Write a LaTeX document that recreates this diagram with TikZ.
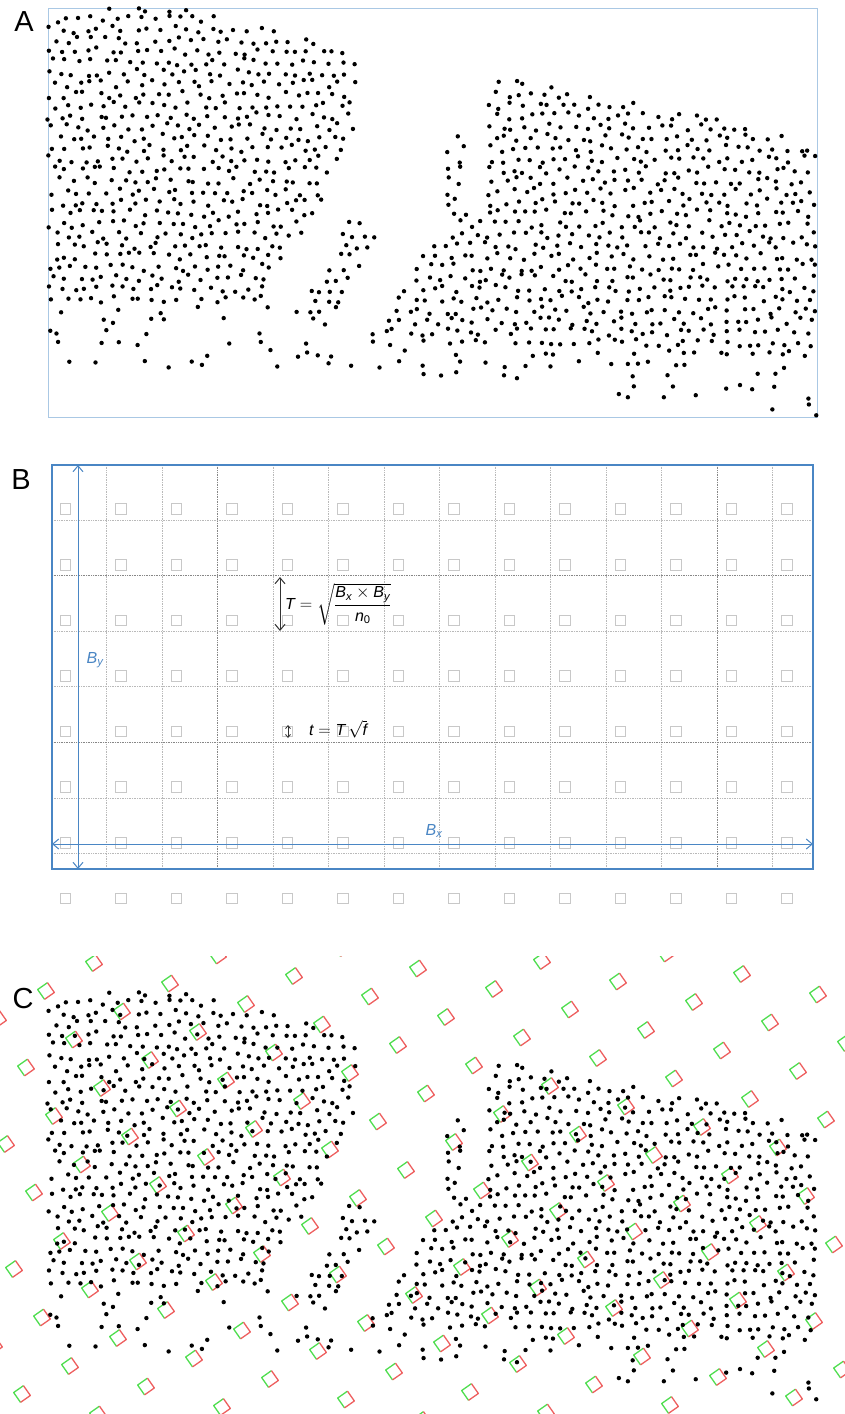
\documentclass[tikz,border=0pt]{standalone}
\usepackage{amsmath}
\usepackage{fontspec}
\setmainfont{Liberation Sans}
\usetikzlibrary{arrows.meta}
\definecolor{frameAc}{RGB}{170,200,228}
\definecolor{bblue}{RGB}{74,134,196}
\definecolor{gridc}{RGB}{185,185,185}
\definecolor{gridk}{RGB}{135,135,135}
\definecolor{sqc}{RGB}{200,200,200}
\definecolor{cgreen}{RGB}{80,222,80}
\definecolor{cred}{RGB}{238,95,95}
\newcommand\mi[1]{\text{\itshape #1}}
\tikzset{
  dotsty/.style={fill=black},
  frameA/.style={draw=frameAc, line width=1pt},
  frameB/.style={draw=bblue, line width=1.3pt},
  gridl/.style={draw=gridc, line width=0.7pt, densely dotted},
  gridd/.style={draw=gridk, line width=0.7pt, densely dotted},
  graysq/.style={draw=sqc, line width=0.7pt},
  barrow/.style={draw=bblue, line width=1pt, {Straight Barb[length=6pt,width=10pt]}-{Straight Barb[length=6pt,width=10pt]}},
  karrow/.style={draw=black!80, line width=1pt, {Straight Barb[length=6pt,width=10pt]}-{Straight Barb[length=6pt,width=10pt]}},
  ksmall/.style={draw=black!80, line width=0.8pt, {Straight Barb[length=3pt,width=5pt]}-{Straight Barb[length=3pt,width=5pt]}},
  gside/.style={draw=cgreen, line width=1.3pt, line join=round},
  rside/.style={draw=cred, line width=1.3pt, line join=round},
  plabel/.style={font=\fontsize{29}{29}\selectfont, inner sep=0pt},
  blabel/.style={font=\fontsize{16}{19}\selectfont, text=bblue, inner sep=0pt},
  flabel/.style={font=\fontsize{16}{19}\selectfont, inner sep=0pt, anchor=west}
}
\begin{document}
\begin{tikzpicture}[x=1pt,y=-1pt]
\useasboundingbox (0,0) rectangle (845,1414);
\fill[white] (0,0) rectangle (845,1414);

% ---------- panel labels
\node[plabel] (labA) at (24,22) {A};
\node[plabel] (labB) at (21,480) {B};
\node[plabel] (labC) at (23,999) {C};

% ---------- panel A frame
\draw[frameA] (48,8) rectangle (817,417);

% ---------- panel C lattice of squares
\begin{scope}
\clip (0,956) rectangle (845,1414);
\foreach \m in {-2,...,15}{
  \foreach \n in {-7,...,13}{
    \pgfmathsetmacro\cx{94+28*\m+48*\n}
    \pgfmathsetmacro\cy{963+48.5*\m-28*\n}
    \pgfmathparse{((\cx>-15)&&(\cx<860)&&(\cy>945)&&(\cy<1425))?1:0}
    \ifdim\pgfmathresult pt>0.5pt
      \draw[gside] ({\cx-1.47},{\cy+8.36}) -- ({\cx-8.36},{\cy-1.47}) -- ({\cx+1.47},{\cy-8.36});
      \draw[rside] ({\cx+1.47},{\cy-8.36}) -- ({\cx+8.36},{\cy+1.47}) -- ({\cx-1.47},{\cy+8.36});
    \fi
  }
}
\end{scope}

% ---------- dots (panel A, and the same field shifted for panel C)
\pgfmathsetseed{27182}
\foreach \j in {0,...,38}{
  \foreach \i in {0,...,63}{
    \pgfmathsetmacro\px{48+12.4*\i+6.2*mod(\j,2)+4.2*rand}
    \pgfmathsetmacro\py{8+10.8*\j+3.8*rand}
    \pgfmathsetmacro\pr{rnd}
    \pgfmathparse{(((\px>=47)&&(\py<=303)&&(\py>=(\px<190 ? 8 : 8+(\px-190)*0.25))&&(\px<=(\py<120 ? 357 : (\py<200 ? 357-(\py-120)*0.45 : 321-(\py-200)*0.6))))
      ||((\px>=47)&&(\px<=300)&&(\py>303)&&(\py<=368)&&(\pr<0.2))
      ||((abs((\px-363)*0.901+(\py-222)*0.433)<=17)&&((\px-363)*(-0.433)+(\py-222)*0.901>=0)&&((\px-363)*(-0.433)+(\py-222)*0.901<=110))
      ||((\px>=444)&&(\px<=466)&&(\py>=130)&&(\py<=218))
      ||((\px<=817)&&(\py>=(\px<770 ? 74+(\px-490)*0.2 : 130+(\px-770)*0.5))&&(\py<=338+(\px-370)*0.05)&&(((\py<218)&&(\px>=488))||((\py>=218)&&(\px>=444-(\py-218)*0.62))))
      ||((\px>=300)&&(\px<=817)&&(\py>338+(\px-370)*0.05)&&(\py<=372+(\px-330)*0.09)&&(\pr<0.25))) ? 1 : 0}
    \ifdim\pgfmathresult pt>0.5pt
      \fill[dotsty] (\px,\py) circle[radius=2.2pt];
      \fill[dotsty] (\px,{\py+984}) circle[radius=2.2pt];
    \fi
  }
}

% ---------- panel B grid
\foreach \k in {0,...,12}{
  \draw[gridl] ({106.7+55.5*\k},465) -- ({106.7+55.5*\k},869);
}
\foreach \k in {0,...,6}{
  \draw[gridl] (52,{520+55.6*\k}) -- (813,{520+55.6*\k});
}
\draw[gridd] (217.7,465) -- (217.7,869);
\draw[gridd] (717.2,465) -- (717.2,869);
\draw[gridd] (52,575.6) -- (813,575.6);
\draw[gridd] (52,742.4) -- (813,742.4);
\foreach \ii in {0,...,13}{
  \foreach \jj in {0,...,7}{
    \draw[graysq] ({60+55.5*\ii},{503.8+55.6*\jj}) rectangle ++(10.5,10.5);
  }
}
\draw[frameB] (52,465) rectangle (813,869);

% ---------- panel B arrows
\coordinate (byT) at (78,465);
\coordinate (byB) at (78,869);
\draw[barrow] (byT) -- (byB);
\coordinate (bxL) at (52,844);
\coordinate (bxR) at (813,844);
\draw[barrow] (bxL) -- (bxR);
\node[blabel] (By) at (95,660) {$\mi{B}_{\mi{y}}$};
\node[blabel] (Bx) at (434,831) {$\mi{B}_{\mi{x}}$};

\coordinate (TT) at (280,577);
\coordinate (TB) at (280,631);
\draw[karrow] (TT) -- (TB);
\node[flabel] (Tform) at (285,604) {$\mi{T} = \sqrt{\dfrac{\mi{B}_{\mi{x}}\times \mi{B}_{\mi{y}}}{\mi{n}_{\text{0}}}}$};

\coordinate (tT) at (288,725);
\coordinate (tB) at (288,738);
\draw[ksmall] (tT) -- (tB);
\node[flabel] (tform) at (309,729) {$\mi{t} = \mi{T}\,\sqrt{\mi{f}}$};
\end{tikzpicture}
\end{document}
